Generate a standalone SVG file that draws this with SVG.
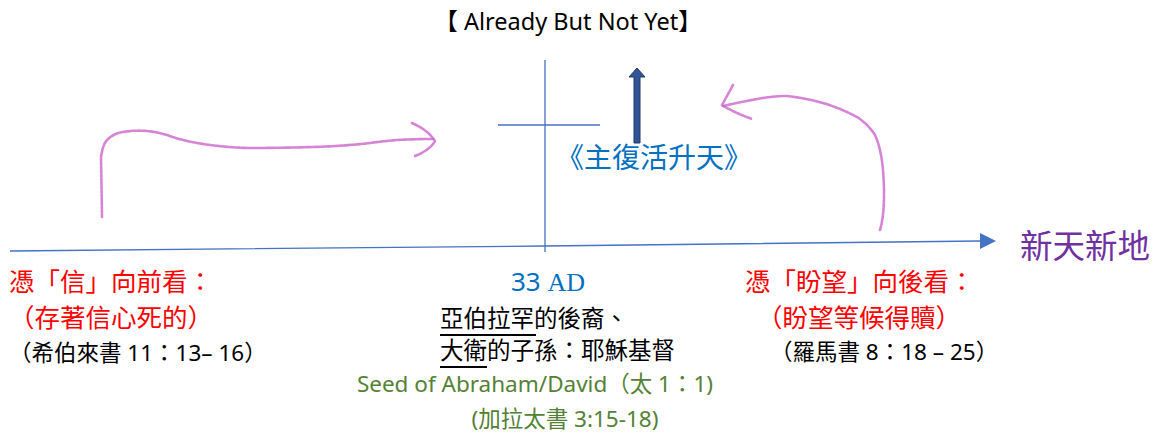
<svg xmlns="http://www.w3.org/2000/svg" width="1154" height="435" viewBox="0 0 1154 435">
<style>
text{font-family:"Noto Sans","Noto Sans CJK TC",sans-serif;}
.red{fill:#FF0000;font-size:25.5px;}
.blk{fill:#000;font-size:22.5px;}
.blk2{fill:#000;font-size:23.5px;}
.grn{fill:#548235;font-size:22.5px;}
.pink{fill:none;stroke:#CC66CC;stroke-width:2.6;stroke-linecap:round;stroke-linejoin:round;opacity:0.8;stroke-dasharray:3 1;}
.bl{stroke:#4472C4;stroke-width:1.3;fill:none;}
</style>
<rect width="1154" height="435" fill="#fff"/>
<g id="title"><text x="568" y="30" text-anchor="middle" font-size="23.5" fill="#000">【 Already But Not Yet】</text></g>
<g id="connectors">
<path class="bl" d="M10 251 L545 246 L980 241"/>
<polygon points="980,233 996,241 980,249" fill="#4472C4"/>
<line class="bl" x1="545" y1="60" x2="545" y2="252"/>
<line class="bl" x1="498" y1="125" x2="600" y2="125"/>
<path d="M634 143 L634 77 L629 77 L637 68 L645 77 L640 77 L640 143 Z" fill="#2F5597" stroke="#203864" stroke-width="1"/>
<path class="pink" d="M102 217 L101 157 Q103 144 107 140 Q114 133 123 132 Q135 130 147 131 Q157 132 167 135 Q180 140 197 143 Q220 147 247 148 Q280 148 313 147 Q345 146 370 143 Q385 141 397 140 Q415 139 433 139"/>
<path class="pink" d="M412 123 Q428 130 435 141 Q430 150 415 156"/>
<path class="pink" d="M880 230 Q886 210 883 170 Q881 148 875 135 Q868 124 857 117 Q840 108 823 103 Q805 98 787 96 Q775 96 763 98 Q745 101 723 106"/>
<path class="pink" d="M733 85 L722 105 Q735 113 752 119"/>
</g>
<g id="ascension"><text x="654" y="168" text-anchor="middle" font-size="28" fill="#0070C0">《主復活升天》</text></g>
<g id="newheaven"><text x="1020" y="258" font-size="32.5" fill="#7030A0">新天新地</text></g>
<g id="faith">
<text class="red" x="9" y="291">憑「信」向前看：</text>
<text class="red" x="9" y="327">（存著信心死的）</text>
<text class="blk" x="9" y="361" font-size="23">（希伯來書 11：13– 16）</text>
</g>
<g id="ad33">
<text x="548" y="291" text-anchor="middle" font-size="26" fill="#0070C0">33 <tspan font-family="Liberation Serif,serif">AD</tspan></text>
<text class="blk2" x="440" y="327">亞伯拉罕的後裔、</text>
<line x1="440" y1="335" x2="536" y2="335" stroke="#000" stroke-width="2"/>
<text class="blk2" x="440" y="359">大衛的子孫：耶穌基督</text>
<line x1="440" y1="367" x2="487" y2="367" stroke="#000" stroke-width="2"/>
<text class="grn" x="535" y="392" text-anchor="middle">Seed of Abraham/David（太 1：1)</text>
<text class="grn" x="565" y="427" text-anchor="middle" font-size="23.5">(加拉太書 3:15-18)</text>
</g>
<g id="hope">
<text class="red" x="745" y="291">憑「盼望」向後看：</text>
<text class="red" x="757" y="327">（盼望等候得贖）</text>
<text class="blk" x="770" y="360">（羅馬書 8：18 – 25）</text>
</g>
</svg>
